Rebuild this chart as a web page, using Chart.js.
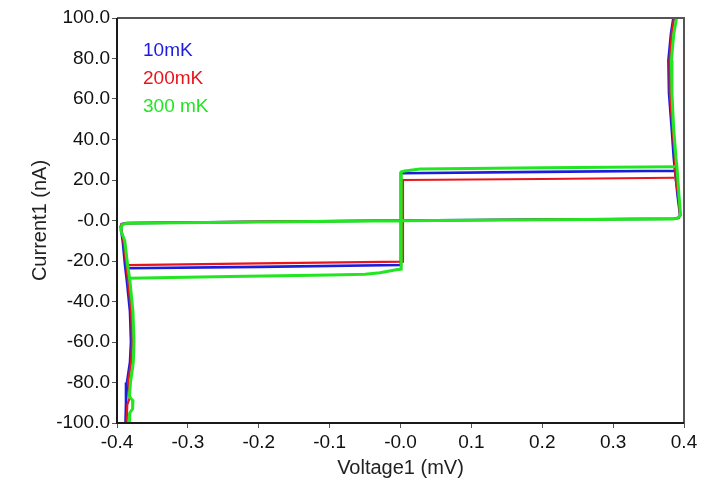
<!DOCTYPE html>
<html>
<head>
<meta charset="utf-8">
<script src="https://cdn.jsdelivr.net/npm/chart.js@4/dist/chart.umd.min.js"></script>
<style>
  html, body { margin: 0; padding: 0; background: #fff; }
  #wrap { width: 714px; height: 482px; position: relative; }
</style>
</head>
<body>
<div id="wrap"><canvas id="c" width="714" height="482"></canvas></div>
<script>
// ---- tick values and labels ----
const xTickValues = [-0.4, -0.3, -0.2, -0.1, 0.0, 0.1, 0.2, 0.3, 0.4];
const xTickLabels = ['-0.4', '-0.3', '-0.2', '-0.1', '-0.0', '0.1', '0.2', '0.3', '0.4'];
const yTickValues = [-100, -80, -60, -40, -20, 0, 20, 40, 60, 80, 100];
const yTickLabels = ['-100.0', '-80.0', '-60.0', '-40.0', '-20.0', '-0.0', '20.0', '40.0', '60.0', '80.0', '100.0'];

// ---- series (V in mV, I in nA); null separates path pieces ----
const seriesNames = ['10mK', '200mK', '300 mK'];

const v10mK = [0.385, 0.3815, 0.378, 0.3788, 0.3825, 0.3855, 0.3873, 0.391, 0.3944, 0.3925, 0.386, 0.2, 0.0, -0.2, -0.386, -0.3935, -0.3948, -0.392, -0.3887, -0.386, -0.3817, -0.3803, -0.3817, -0.3859, -0.3873, -0.388,
  null,
  -0.387, -0.2, 0.0005, 0.0005, 0.2, 0.386];
const i10mK = [100, 92, 79, 63, 46, 31, 24.6, 12, 2.8, 1.3, 0.9, 0.5, 0.0, -0.6, -1.3, -1.8, -3, -10, -22, -30, -45, -60, -70, -80, -90, -100,
  null,
  -23.6, -22.9, -22, 23.3, 24.0, 24.6];

const v200mK = [0.386, 0.3825, 0.3795, 0.380, 0.3838, 0.387, 0.388, 0.392, 0.3944, 0.3925, 0.386, 0.2, 0.0, -0.2, -0.386, -0.3935, -0.3945, -0.391, -0.387, -0.3845, -0.380, -0.3788, -0.380, -0.3845, -0.3815, -0.3855, -0.3865,
  null,
  -0.386, -0.2, 0.0035, 0.0035, 0.2, 0.386];
const i200mK = [100, 92, 79, 63, 46, 31, 21, 12, 2.8, 1.3, 0.9, 0.5, 0.0, -0.6, -1.3, -1.8, -3, -10, -22, -30, -45, -60, -70, -80, -87, -91, -100,
  null,
  -22, -21.2, -20.3, 20, 20.5, 21.1];

const v300mK = [0.3895, 0.3855, 0.3822, 0.383, 0.3853, 0.3887, 0.390, 0.393, 0.3952, 0.3915, 0.3845, 0.2, 0.0, -0.2, -0.386, -0.393, -0.3945, -0.389, -0.385, -0.3817, -0.3775, -0.376, -0.377, -0.381, -0.3825, -0.3775, -0.378, -0.382, -0.3823,
  null,
  -0.3835, -0.2406, -0.0995, -0.05, -0.029, -0.008, 0.001, 0.001, 0.006, 0.0275, 0.2, 0.3875];
const i300mK = [100, 92, 79, 63, 46, 31, 26.6, 12, 2.7, 1.3, 0.7, 0.4, -0.1, -0.7, -1.3, -2.2, -5, -10, -22, -30, -45, -60, -70, -80, -87, -89, -93, -95, -100,
  null,
  -28.5, -27.7, -26.9, -26.5, -25.8, -24.4, -24, 24, 24.4, 25.4, 26.0, 26.6];

const seriesColors = ['#1c1cdc', '#e8161c', '#22e622'];

function pts(vs, is) {
  return vs.map((v, k) => (v === null ? { x: null, y: null } : { x: v, y: is[k] }));
}

const FONT = "'Liberation Sans', Arial, sans-serif";

const frameAndLegend = {
  id: 'frameAndLegend',
  afterDatasetsDraw(chart) {
    const { ctx, chartArea: a } = chart;
    ctx.save();
    ctx.lineWidth = 2;
    ctx.strokeStyle = '#555';
    ctx.beginPath();
    ctx.moveTo(a.left, a.top);
    ctx.lineTo(a.right, a.top);
    ctx.lineTo(a.right, a.bottom);
    ctx.stroke();
    ctx.strokeStyle = '#1a1a1a';
    ctx.beginPath();
    ctx.moveTo(a.left, a.top);
    ctx.lineTo(a.left, a.bottom);
    ctx.lineTo(a.right, a.bottom);
    ctx.stroke();
    // legend text
    ctx.font = '19px ' + FONT;
    ctx.textBaseline = 'middle';
    ctx.textAlign = 'left';
    [0, 1, 2].forEach((k) => {
      const ds = chart.data.datasets.find(d => d.label === seriesNames[k]);
      ctx.fillStyle = ds.borderColor;
      ctx.fillText(ds.label, a.left + 26, a.top + 32.5 + 28 * k);
    });
    ctx.restore();
  }
};

new Chart(document.getElementById('c'), {
  type: 'scatter',
  data: {
    datasets: [
      { label: seriesNames[2], data: pts(v300mK, i300mK), borderColor: seriesColors[2], borderWidth: 3, order: 0 },
      { label: seriesNames[1], data: pts(v200mK, i200mK), borderColor: seriesColors[1], borderWidth: 2.2, order: 1 },
      { label: seriesNames[0], data: pts(v10mK, i10mK), borderColor: seriesColors[0], borderWidth: 2.6, order: 2 }
    ].map(d => Object.assign(d, { showLine: true, pointRadius: 0, pointHoverRadius: 0, tension: 0, spanGaps: false, fill: false, backgroundColor: d.borderColor }))
  },
  options: {
    responsive: false,
    animation: false,
    events: [],
    layout: { padding: { left: 0, top: 18, right: 30, bottom: 0 } },
    plugins: { legend: { display: false }, tooltip: { enabled: false } },
    scales: {
      x: {
        type: 'linear',
        min: -0.4, max: 0.4,
        afterBuildTicks(scale) { scale.ticks = xTickValues.map(v => ({ value: v })); },
        afterFit(scale) { scale.height = 59; },
        grid: { drawOnChartArea: false, drawTicks: true, tickLength: 5, color: '#555', lineWidth: 1 },
        border: { display: false },
        ticks: {
          color: '#111', padding: 3, maxRotation: 0, autoSkip: false,
          font: { family: FONT, size: 19 },
          callback(value, idx) { return xTickLabels[idx]; }
        },
        title: { display: true, text: 'Voltage1 (mV)', color: '#222', font: { family: FONT, size: 20 }, padding: { top: 0, bottom: 2 } }
      },
      y: {
        type: 'linear',
        min: -100, max: 100,
        afterBuildTicks(scale) { scale.ticks = yTickValues.map(v => ({ value: v })); },
        afterFit(scale) { scale.width = 117; },
        grid: { drawOnChartArea: false, drawTicks: true, tickLength: 5, color: '#555', lineWidth: 1 },
        border: { display: false },
        ticks: {
          color: '#111', padding: 2, autoSkip: false,
          font: { family: FONT, size: 19 },
          callback(value, idx) { return yTickLabels[idx]; }
        },
        title: { display: true, text: 'Current1 (nA)', color: '#222', font: { family: FONT, size: 20 }, padding: { top: 28, bottom: 0 } }
      }
    }
  },
  plugins: [frameAndLegend]
});
</script>
</body>
</html>
